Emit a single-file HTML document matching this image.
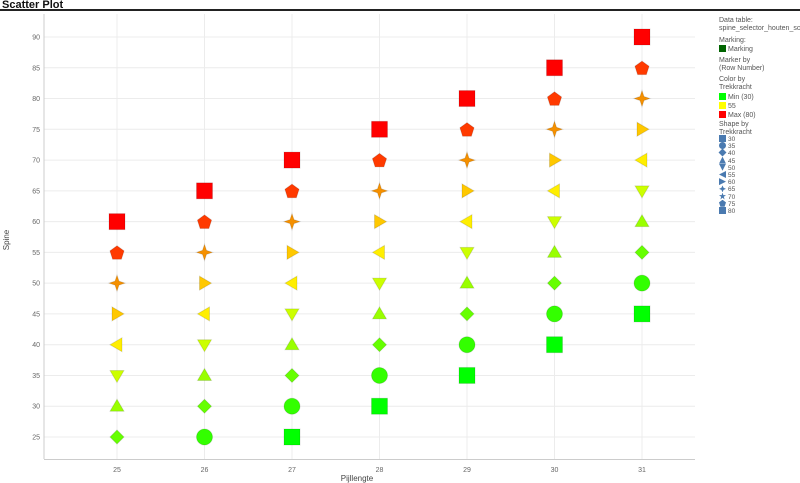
<!DOCTYPE html>
<html><head><meta charset="utf-8"><style>
body{margin:0;width:800px;height:483px;background:#fff;font-family:"Liberation Sans",sans-serif;overflow:hidden;position:relative}
.t{position:absolute;left:2px;top:-1px;font-size:11px;font-weight:bold;color:#111}
.bar{position:absolute;left:0;top:9px;width:800px;height:2px;background:#222}
.lg{position:absolute;left:719px;font-size:7px;color:#555;line-height:8px;white-space:nowrap}
.sw{display:inline-block;width:7px;height:7px;vertical-align:-1px;margin-right:2px}
.sh div{height:7.2px;line-height:7.2px;overflow:visible}
.sh i{display:inline-block;width:7px;height:7px;vertical-align:-1px;margin-right:2px;background:#4a7ab0}
</style></head><body>
<div class="t">Scatter Plot</div><div class="bar"></div>
<svg id="s" width="800" height="483" style="position:absolute;left:0;top:0" font-family="Liberation Sans, sans-serif"></svg>
<div class="lg" style="top:17px">Data table:<br>spine_selector_houten_schac</div>
<div class="lg" style="top:37px">Marking:<br><span class="sw" style="background:#006400"></span>Marking</div>
<div class="lg" style="top:57px">Marker by<br>(Row Number)</div>
<div class="lg" style="top:76px">Color by<br>Trekkracht</div>
<div class="lg" style="top:93px"><span class="sw" style="background:#0f0"></span>Min (30)<br><span class="sw" style="background:#ff0"></span>55<br><span class="sw" style="background:#f00"></span>Max (80)</div>
<div class="lg" style="top:121px">Shape by<br>Trekkracht</div>
<div class="lg sh" style="top:135px;font-size:6.5px">
<div><i></i>30</div><div><i style="border-radius:50%"></i>35</div><div><i style="transform:rotate(45deg) scale(.8)"></i>40</div><div><i style="clip-path:polygon(50% 0,100% 100%,0 100%)"></i>45</div><div><i style="clip-path:polygon(0 0,100% 0,50% 100%)"></i>50</div><div><i style="clip-path:polygon(0 50%,100% 0,100% 100%)"></i>55</div><div><i style="clip-path:polygon(100% 50%,0 0,0 100%)"></i>60</div><div><i style="clip-path:polygon(50% 0,65% 35%,100% 50%,65% 65%,50% 100%,35% 65%,0 50%,35% 35%)"></i>65</div><div><i style="clip-path:polygon(50% 0,62% 38%,100% 38%,69% 60%,80% 100%,50% 75%,20% 100%,31% 60%,0 38%,38% 38%)"></i>70</div><div><i style="clip-path:polygon(50% 0,100% 38%,80% 100%,20% 100%,0 38%)"></i>75</div><div><i></i>80</div></div>
<script>
var s=document.getElementById('s'),h='';
function X(v){return 117+(v-25)*87.5}
function Y(v){return 437-(v-25)*6.154}
for(var v=25;v<=90;v+=5){var y=Y(v);h+='<line x1="44" x2="695" y1="'+y+'" y2="'+y+'" stroke="#ececec"/><text x="40" y="'+(y+2.5)+'" font-size="7" fill="#666" text-anchor="end">'+v+'</text>';}
for(var v=25;v<=31;v++){var x=X(v);h+='<line x1="'+x+'" x2="'+x+'" y1="14" y2="459" stroke="#ececec"/><text x="'+x+'" y="472" font-size="7" fill="#666" text-anchor="middle">'+v+'</text>';}
h+='<line x1="44" x2="44" y1="14" y2="459" stroke="#ccc"/><line x1="44" x2="695" y1="459.5" y2="459.5" stroke="#ccc"/>';
h+='<text x="357" y="481" font-size="8" fill="#444" text-anchor="middle">Pijllengte</text>';
h+='<text transform="translate(9,240) rotate(-90)" font-size="8" fill="#444" text-anchor="middle">Spine</text>';
var C=['#00ff00','#33ff00','#66ff00','#99ff00','#ccff00','#ffee00','#ffc800','#f59000','#ff3a00','#ff0000'];
function shp(i,x,y,c){var st=' fill="'+c+'" stroke="rgba(0,0,0,0.12)"';
switch(i){
case 0:case 9:return '<rect x="'+(x-8)+'" y="'+(y-8)+'" width="16" height="16"'+st+'/>';
case 1:return '<circle cx="'+x+'" cy="'+y+'" r="8"'+st+'/>';
case 2:return '<polygon points="'+x+','+(y-7)+' '+(x+7)+','+y+' '+x+','+(y+7)+' '+(x-7)+','+y+'"'+st+'/>';
case 3:return '<polygon points="'+x+','+(y-7)+' '+(x+7)+','+(y+5)+' '+(x-7)+','+(y+5)+'"'+st+'/>';
case 4:return '<polygon points="'+(x-7)+','+(y-5)+' '+(x+7)+','+(y-5)+' '+x+','+(y+7)+'"'+st+'/>';
case 5:return '<polygon points="'+(x-7)+','+y+' '+(x+5)+','+(y-7)+' '+(x+5)+','+(y+7)+'"'+st+'/>';
case 6:return '<polygon points="'+(x+7)+','+y+' '+(x-5)+','+(y-7)+' '+(x-5)+','+(y+7)+'"'+st+'/>';
case 7:return '<polygon points="'+x+','+(y-8)+' '+(x+2)+','+(y-2)+' '+(x+8)+','+y+' '+(x+2)+','+(y+2)+' '+x+','+(y+8)+' '+(x-2)+','+(y+2)+' '+(x-8)+','+y+' '+(x-2)+','+(y-2)+'"'+st+'/>';
case 8:var p=[];for(var k=0;k<5;k++){var a=-Math.PI/2+k*2*Math.PI/5;p.push((x+7.5*Math.cos(a)).toFixed(1)+','+(y+7.5*Math.sin(a)+0.8).toFixed(1));}return '<polygon points="'+p.join(' ')+'"'+st+'/>';
}}
for(var c=0;c<7;c++){var L=25+c,st=(c==0?2:(c==1?1:0));var base=c<2?25:25+5*(c-2);
for(var i=st;i<10;i++){var sp=base+5*(i-st);h+=shp(i,X(L),Y(sp),C[i]);}}
s.innerHTML=h;
</script>
</body></html>
